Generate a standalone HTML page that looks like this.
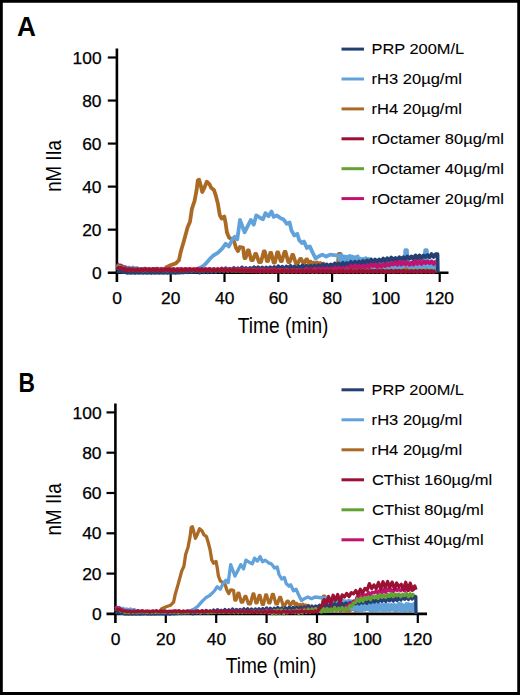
<!DOCTYPE html>
<html><head><meta charset="utf-8"><style>
html,body{margin:0;padding:0;background:#fff;width:520px;height:695px;overflow:hidden;}
svg{display:block;font-family:"Liberation Sans",sans-serif;}
</style></head><body>
<svg width="520" height="695" viewBox="0 0 520 695" font-family="Liberation Sans, sans-serif">
<rect x="0" y="0" width="520" height="695" fill="#fff"/>
<text x="17.11" y="36.30" font-size="27.54" font-weight="bold" fill="#000" textLength="18.93" lengthAdjust="spacingAndGlyphs">A</text>
<text x="18.40" y="391.50" font-size="26.96" font-weight="bold" fill="#000" textLength="16.46" lengthAdjust="spacingAndGlyphs">B</text>
<line x1="116.90" y1="48.50" x2="116.90" y2="282.00" stroke="#000" stroke-width="2.60"/>
<line x1="107.80" y1="272.70" x2="448.50" y2="272.70" stroke="#000" stroke-width="2.60"/>
<line x1="107.80" y1="229.66" x2="116.90" y2="229.66" stroke="#000" stroke-width="2.20"/>
<line x1="107.80" y1="186.62" x2="116.90" y2="186.62" stroke="#000" stroke-width="2.20"/>
<line x1="107.80" y1="143.58" x2="116.90" y2="143.58" stroke="#000" stroke-width="2.20"/>
<line x1="107.80" y1="100.54" x2="116.90" y2="100.54" stroke="#000" stroke-width="2.20"/>
<line x1="107.80" y1="57.50" x2="116.90" y2="57.50" stroke="#000" stroke-width="2.20"/>
<line x1="170.70" y1="272.70" x2="170.70" y2="282.00" stroke="#000" stroke-width="2.20"/>
<line x1="224.50" y1="272.70" x2="224.50" y2="282.00" stroke="#000" stroke-width="2.20"/>
<line x1="278.30" y1="272.70" x2="278.30" y2="282.00" stroke="#000" stroke-width="2.20"/>
<line x1="332.10" y1="272.70" x2="332.10" y2="282.00" stroke="#000" stroke-width="2.20"/>
<line x1="385.90" y1="272.70" x2="385.90" y2="282.00" stroke="#000" stroke-width="2.20"/>
<line x1="439.70" y1="272.70" x2="439.70" y2="282.00" stroke="#000" stroke-width="2.20"/>
<text x="91.95" y="279.10" font-size="16.57" font-weight="normal" fill="#000" textLength="9.68" lengthAdjust="spacingAndGlyphs" stroke="#000" stroke-width="0.25">0</text>
<text x="82.21" y="236.06" font-size="16.57" font-weight="normal" fill="#000" textLength="19.35" lengthAdjust="spacingAndGlyphs" stroke="#000" stroke-width="0.25">20</text>
<text x="82.21" y="193.02" font-size="16.57" font-weight="normal" fill="#000" textLength="19.35" lengthAdjust="spacingAndGlyphs" stroke="#000" stroke-width="0.25">40</text>
<text x="82.21" y="149.98" font-size="16.57" font-weight="normal" fill="#000" textLength="19.35" lengthAdjust="spacingAndGlyphs" stroke="#000" stroke-width="0.25">60</text>
<text x="82.21" y="106.94" font-size="16.57" font-weight="normal" fill="#000" textLength="19.35" lengthAdjust="spacingAndGlyphs" stroke="#000" stroke-width="0.25">80</text>
<text x="72.64" y="63.90" font-size="16.57" font-weight="normal" fill="#000" textLength="29.03" lengthAdjust="spacingAndGlyphs" stroke="#000" stroke-width="0.25">100</text>
<text x="112.23" y="304.20" font-size="16.57" font-weight="normal" fill="#000" textLength="9.68" lengthAdjust="spacingAndGlyphs" stroke="#000" stroke-width="0.25">0</text>
<text x="161.07" y="304.20" font-size="16.57" font-weight="normal" fill="#000" textLength="19.35" lengthAdjust="spacingAndGlyphs" stroke="#000" stroke-width="0.25">20</text>
<text x="215.13" y="304.20" font-size="16.57" font-weight="normal" fill="#000" textLength="19.35" lengthAdjust="spacingAndGlyphs" stroke="#000" stroke-width="0.25">40</text>
<text x="268.67" y="304.20" font-size="16.57" font-weight="normal" fill="#000" textLength="19.35" lengthAdjust="spacingAndGlyphs" stroke="#000" stroke-width="0.25">60</text>
<text x="322.56" y="304.20" font-size="16.57" font-weight="normal" fill="#000" textLength="19.35" lengthAdjust="spacingAndGlyphs" stroke="#000" stroke-width="0.25">80</text>
<text x="371.22" y="304.20" font-size="16.57" font-weight="normal" fill="#000" textLength="29.03" lengthAdjust="spacingAndGlyphs" stroke="#000" stroke-width="0.25">100</text>
<text x="425.02" y="304.20" font-size="16.57" font-weight="normal" fill="#000" textLength="29.03" lengthAdjust="spacingAndGlyphs" stroke="#000" stroke-width="0.25">120</text>
<line x1="115.40" y1="403.50" x2="115.40" y2="623.00" stroke="#000" stroke-width="2.60"/>
<line x1="106.50" y1="613.90" x2="427.00" y2="613.90" stroke="#000" stroke-width="2.60"/>
<line x1="106.50" y1="573.60" x2="115.40" y2="573.60" stroke="#000" stroke-width="2.20"/>
<line x1="106.50" y1="533.30" x2="115.40" y2="533.30" stroke="#000" stroke-width="2.20"/>
<line x1="106.50" y1="493.00" x2="115.40" y2="493.00" stroke="#000" stroke-width="2.20"/>
<line x1="106.50" y1="452.70" x2="115.40" y2="452.70" stroke="#000" stroke-width="2.20"/>
<line x1="106.50" y1="412.40" x2="115.40" y2="412.40" stroke="#000" stroke-width="2.20"/>
<line x1="165.80" y1="613.90" x2="165.80" y2="623.00" stroke="#000" stroke-width="2.20"/>
<line x1="216.20" y1="613.90" x2="216.20" y2="623.00" stroke="#000" stroke-width="2.20"/>
<line x1="266.60" y1="613.90" x2="266.60" y2="623.00" stroke="#000" stroke-width="2.20"/>
<line x1="317.00" y1="613.90" x2="317.00" y2="623.00" stroke="#000" stroke-width="2.20"/>
<line x1="367.40" y1="613.90" x2="367.40" y2="623.00" stroke="#000" stroke-width="2.20"/>
<line x1="417.80" y1="613.90" x2="417.80" y2="623.00" stroke="#000" stroke-width="2.20"/>
<text x="91.93" y="620.05" font-size="15.86" font-weight="normal" fill="#000" textLength="9.70" lengthAdjust="spacingAndGlyphs" stroke="#000" stroke-width="0.25">0</text>
<text x="82.16" y="579.75" font-size="15.86" font-weight="normal" fill="#000" textLength="19.40" lengthAdjust="spacingAndGlyphs" stroke="#000" stroke-width="0.25">20</text>
<text x="82.16" y="539.45" font-size="15.86" font-weight="normal" fill="#000" textLength="19.40" lengthAdjust="spacingAndGlyphs" stroke="#000" stroke-width="0.25">40</text>
<text x="82.16" y="499.15" font-size="15.86" font-weight="normal" fill="#000" textLength="19.40" lengthAdjust="spacingAndGlyphs" stroke="#000" stroke-width="0.25">60</text>
<text x="82.16" y="458.85" font-size="15.86" font-weight="normal" fill="#000" textLength="19.40" lengthAdjust="spacingAndGlyphs" stroke="#000" stroke-width="0.25">80</text>
<text x="72.57" y="418.55" font-size="15.86" font-weight="normal" fill="#000" textLength="29.10" lengthAdjust="spacingAndGlyphs" stroke="#000" stroke-width="0.25">100</text>
<text x="110.72" y="645.00" font-size="15.86" font-weight="normal" fill="#000" textLength="9.70" lengthAdjust="spacingAndGlyphs" stroke="#000" stroke-width="0.25">0</text>
<text x="156.14" y="645.00" font-size="15.86" font-weight="normal" fill="#000" textLength="19.40" lengthAdjust="spacingAndGlyphs" stroke="#000" stroke-width="0.25">20</text>
<text x="206.81" y="645.00" font-size="15.86" font-weight="normal" fill="#000" textLength="19.40" lengthAdjust="spacingAndGlyphs" stroke="#000" stroke-width="0.25">40</text>
<text x="256.94" y="645.00" font-size="15.86" font-weight="normal" fill="#000" textLength="19.40" lengthAdjust="spacingAndGlyphs" stroke="#000" stroke-width="0.25">60</text>
<text x="307.43" y="645.00" font-size="15.86" font-weight="normal" fill="#000" textLength="19.40" lengthAdjust="spacingAndGlyphs" stroke="#000" stroke-width="0.25">80</text>
<text x="352.69" y="645.00" font-size="15.86" font-weight="normal" fill="#000" textLength="29.10" lengthAdjust="spacingAndGlyphs" stroke="#000" stroke-width="0.25">100</text>
<text x="403.09" y="645.00" font-size="15.86" font-weight="normal" fill="#000" textLength="29.10" lengthAdjust="spacingAndGlyphs" stroke="#000" stroke-width="0.25">120</text>
<polyline points="116.9,267.4 118.9,268.9 120.9,268.4 123.0,270.2 125.0,269.8 127.0,271.2 129.0,270.4 131.0,271.5 133.0,270.6 135.1,271.5 137.1,270.5 139.1,271.6 141.1,270.6 143.1,271.4 145.1,270.4 147.2,271.4 149.2,270.6 151.2,271.6 153.2,270.5 155.2,271.3 157.2,270.5 159.3,271.5 161.3,270.6 163.3,271.5 166.3,267.3 171.1,265.0 175.8,263.4 179.0,260.2 180.6,252.3 183.8,241.2 187.7,227.0 190.0,221.8 191.9,208.9 194.5,201.1 196.5,190.7 197.8,180.4 199.1,179.7 200.4,184.2 202.3,192.0 204.2,188.1 206.8,181.7 209.4,184.2 211.4,188.1 214.0,190.1 215.9,195.9 217.9,203.7 219.8,215.3 221.7,218.6 224.3,216.6 225.6,223.1 226.9,232.2 228.9,237.4 231.5,239.3 234.0,241.2 236.0,247.7 237.9,251.0 240.0,247.0 243.0,247.5 244.4,258.0 245.6,258.0 247.8,250.5 248.8,250.5 251.2,260.0 252.8,260.0 255.2,254.0 256.2,254.0 259.0,262.0 261.0,262.0 263.8,251.5 264.8,251.5 266.9,261.0 268.1,261.0 270.2,253.0 271.2,253.0 273.6,262.5 274.9,262.5 277.2,252.5 278.2,252.5 280.6,261.0 281.9,261.0 284.4,252.0 285.6,252.0 288.2,262.0 289.8,262.0 292.2,255.0 293.2,255.0 295.9,263.5 297.6,263.5 300.2,259.0 301.2,259.0 303.2,263.0 304.2,263.0 306.2,259.5 307.2,259.5 309.2,264.0 310.2,264.0 310.6,261.6 312.2,264.6 313.8,262.6 315.4,265.4 317.0,262.4 318.6,265.5 320.3,263.1 321.9,267.5 323.5,263.6 325.1,268.7 326.7,265.5 328.3,267.6 329.9,264.9 331.6,267.9 333.2,266.2 334.8,267.9 336.4,264.9 337.7,267.0 338.7,253.8 340.6,253.8 341.5,267.0 342.9,264.8 344.5,268.7 346.1,266.5 347.7,268.6 349.3,266.1 350.9,267.7 352.5,265.8 354.2,268.4 355.8,265.8 357.4,269.8 359.0,265.6 360.6,268.6 362.2,265.2 363.8,270.0 365.5,266.1 367.1,269.9 368.7,267.2 370.3,268.1 371.9,266.9 373.5,270.0 375.1,265.7 376.8,269.5 378.4,266.6 380.0,268.9 381.6,265.2 383.2,268.0 384.8,267.0 386.4,267.9 388.1,266.2 389.7,269.7 391.3,266.0 392.9,268.7 394.5,266.1 396.1,268.2 397.7,265.1 399.3,268.6 401.0,266.7 402.6,268.5 404.2,265.4 405.8,268.5 407.4,265.2 409.0,268.6 410.6,266.3 412.3,268.0 413.9,265.2 415.5,269.6 417.1,266.2 418.7,268.1 420.3,266.1 421.9,268.7 423.6,265.3 425.2,270.0 426.8,265.6 428.4,268.5 430.0,267.2 431.6,269.9 433.2,265.1 434.9,268.2 436.5,266.1" fill="none" stroke="#ab6a24" stroke-width="3.80" stroke-linejoin="round"/>
<polyline points="116.9,265.0 118.9,266.3 120.9,265.8 123.0,267.0 125.0,266.9 127.0,268.0 129.0,267.5 131.0,268.3 133.0,267.4 135.1,268.4 137.1,268.0 139.1,269.5 141.1,269.4 143.1,270.7 145.1,270.2 147.2,271.1 149.2,270.3 151.2,271.0 153.2,270.3 155.2,271.0 157.2,270.2 159.3,270.9 161.3,270.1 163.3,270.8 165.3,270.3 167.3,271.1 169.4,270.1 171.4,270.8 173.4,270.0 175.4,271.1 177.4,270.2 179.4,270.9 181.5,270.2 183.5,270.9 185.5,270.1 187.5,270.9 189.5,270.1 191.5,270.8 193.6,270.2 193.0,270.3 198.0,268.8 202.0,266.8 205.0,264.5 209.4,259.4 213.3,255.5 217.8,252.9 222.4,248.4 225.6,243.8 228.9,246.4 232.1,240.0 234.7,236.7 237.3,239.3 240.0,220.0 244.6,232.3 247.7,226.2 250.8,220.0 253.8,224.6 256.2,215.4 260.0,217.7 263.1,219.2 265.4,213.1 268.5,216.2 271.5,211.5 273.8,216.9 276.9,215.4 279.0,217.0 281.0,218.5 283.0,219.0 284.8,221.0 286.7,223.8 289.6,222.5 291.5,230.6 294.4,235.4 297.3,233.8 299.2,240.2 302.1,243.1 304.0,241.6 306.9,247.9 309.8,246.4 312.7,252.7 315.6,258.5 318.5,256.5 322.3,254.6 326.2,256.5 330.0,254.6 338.8,255.7 340.2,263.0 341.5,255.1 342.9,263.7 344.2,256.4 345.6,262.6 346.9,256.7 348.2,262.9 349.6,255.8 350.9,262.9 352.3,256.5 353.6,263.4 355.0,257.2 356.3,264.1 357.7,256.3 359.0,264.8 360.3,258.6 361.7,264.7 363.0,258.9 364.4,266.6 365.7,258.1 367.1,267.1 368.4,258.8 369.8,267.6 371.1,259.1 372.4,268.0 373.8,261.6 375.1,268.8 376.5,261.8 377.8,269.2 379.2,261.9 380.5,268.6 381.9,262.3 383.2,268.6 384.6,262.5 385.9,268.0 387.2,261.5 388.6,269.4 389.9,261.2 391.3,269.2 392.6,262.1 394.0,269.3 395.3,262.9 396.7,269.2 398.0,262.3 399.4,268.2 400.7,262.8 402.0,268.9 403.4,262.7 404.5,265.9 405.3,250.1 406.9,250.1 407.7,265.9 408.8,263.0 410.1,268.9 411.5,262.8 412.8,268.5 414.1,262.9 415.5,268.7 416.8,263.2 418.2,269.3 419.5,261.5 420.9,268.8 422.2,261.9 423.6,269.9 424.4,265.9 425.2,250.1 426.8,250.1 427.6,265.9 428.9,269.7 430.3,262.2 431.6,268.5 433.0,262.6 434.3,269.8 435.7,261.7 437.0,269.7" fill="none" stroke="#62a2da" stroke-width="3.80" stroke-linejoin="round"/>
<polyline points="116.9,270.7 118.9,271.5 120.9,271.3 123.0,272.2 125.0,272.0 127.0,272.8 129.0,272.5 131.0,272.9 133.0,272.4 135.1,273.0 137.1,272.5 139.1,272.9 141.1,272.5 143.1,272.9 145.1,272.4 147.2,272.8 149.2,272.3 151.2,273.0 153.2,272.4 155.2,272.9 157.2,272.4 159.3,272.8 161.3,272.4 163.3,272.8 165.3,272.4 167.3,272.8 169.4,272.4 171.4,272.8 173.4,272.4 175.4,272.9 177.4,272.3 179.4,272.7 181.5,272.1 183.5,272.5 185.5,271.9 187.5,272.3 189.5,271.7 191.5,272.2 193.6,271.5 195.6,272.0 197.6,270.5 199.6,272.6 201.6,270.3 203.7,272.2 205.7,269.6 207.7,272.2 209.7,269.3 211.7,272.0 213.7,269.0 215.8,272.1 217.8,269.6 219.8,271.4 221.8,268.6 223.8,271.4 225.8,268.3 227.9,271.1 229.9,268.8 231.9,271.0 233.9,268.0 235.9,270.5 237.9,268.3 240.0,270.3 242.0,267.4 244.0,270.6 246.0,268.0 248.0,270.0 250.1,267.9 252.1,269.7 254.1,267.2 256.1,269.7 258.1,267.3 260.1,269.8 262.2,267.5 264.2,269.9 266.2,267.4 268.2,269.7 270.2,267.3 272.2,269.4 274.3,267.1 276.3,269.1 278.3,266.3 280.3,269.4 282.3,266.7 284.4,269.4 286.4,266.6 288.4,268.8 290.4,265.9 292.4,268.9 294.4,266.4 296.5,269.0 298.5,266.2 300.5,268.2 302.5,265.5 304.5,268.1 306.5,265.8 308.6,267.8 310.6,265.8 312.6,268.0 314.6,265.5 316.6,267.9 318.6,265.3 320.7,267.5 322.7,264.4 324.7,267.2 326.7,264.4 328.7,267.2 330.8,264.4 332.8,266.2 334.8,263.4 336.8,266.4 338.8,263.6 340.8,265.5 342.9,262.8 344.9,265.8 346.9,262.9 348.9,265.4 350.9,261.8 352.9,264.6 355.0,261.7 357.0,263.7 359.0,261.6 361.0,263.9 363.0,260.9 365.1,263.2 367.1,260.4 369.1,262.8 371.1,259.7 373.1,261.9 375.1,259.6 377.2,261.9 379.2,259.4 381.2,261.2 383.2,258.6 385.2,261.3 387.2,258.2 389.3,260.5 391.3,257.6 393.3,260.1 395.3,258.0 397.3,259.8 399.4,257.3 401.4,259.2 403.4,257.2 405.4,259.2 407.4,256.5 409.4,258.7 411.5,256.4 413.5,259.0 415.5,255.5 417.5,258.5 419.5,255.4 421.5,258.0 423.6,255.4 425.6,257.0 427.6,255.0 429.6,257.3 431.6,254.0 433.6,256.9 435.7,254.1 437.5,254.2 437.8,272.7" fill="none" stroke="#243f72" stroke-width="3.80" stroke-linejoin="round"/>
<polyline points="116.9,263.7 118.9,265.8 120.9,265.5 123.0,267.2 125.0,267.4 127.0,269.1 129.0,268.7 131.0,269.3 133.0,268.9 135.1,269.5 137.1,268.9 139.1,269.5 141.1,269.0 143.1,269.3 145.1,268.6 147.2,269.5 149.2,268.8 151.2,269.7 153.2,268.8 155.2,269.3 157.2,268.6 159.3,269.6 161.3,268.7 163.3,269.6 165.3,268.6 167.3,269.5 169.4,268.7 171.4,269.5 173.4,268.8 175.4,269.7 177.4,268.9 179.4,269.4 181.5,268.9 183.5,269.8 185.5,268.8 187.5,269.6 189.5,268.8 191.5,269.5 193.6,269.1 195.6,269.6 197.6,268.7 199.6,269.5 201.6,269.1 203.7,269.5 205.7,269.2 207.7,269.6 209.7,268.9 211.7,269.9 213.7,269.1 215.8,269.7 217.8,269.1 219.8,269.7 221.8,268.8 223.8,269.8 225.8,269.1 227.9,269.6 229.9,268.9 231.9,269.9 233.9,268.9 235.9,269.7 237.9,269.0 240.0,270.0 242.0,269.0 244.0,270.1 246.0,269.2 248.0,270.1 250.1,269.3 252.1,269.8 254.1,269.4 256.1,270.1 258.1,269.1 260.1,270.2 262.2,269.1 264.2,270.3 266.2,269.3 268.2,270.4 270.2,269.3 272.2,270.1 274.3,269.2 276.3,270.2 278.3,269.7 280.3,270.1 282.3,269.6 284.4,270.2 286.4,269.4 288.4,270.7 290.4,269.9 292.4,270.3 294.4,269.8 296.5,270.4 298.5,269.8 300.5,270.8 302.5,270.0 304.5,270.7 306.5,268.5 308.6,271.3 310.6,269.2 312.6,271.9 314.6,268.4 316.6,271.7 318.6,268.4 320.7,270.9 322.7,268.3 324.7,271.4 326.7,268.3 328.7,270.3 330.8,268.7 332.8,270.4 334.8,267.6 336.8,270.3 338.8,267.6 340.8,270.3 342.9,267.9 344.9,269.7 346.9,267.2 348.9,269.2 350.9,266.1 352.9,268.4 355.0,265.5 357.0,267.7 359.0,265.8 361.0,268.1 363.0,265.9 365.1,267.7 367.1,265.2 369.1,267.2 371.1,264.4 373.1,266.1 375.1,264.6 377.2,267.0 379.2,264.6 381.2,266.8 383.2,264.2 385.2,266.1 387.2,263.9 389.3,265.4 391.3,263.1 393.3,264.5 395.3,262.3 397.3,264.8 399.4,262.0 401.4,264.6 403.4,262.0 405.4,264.4 407.4,262.3 409.4,264.8 411.5,262.4 413.5,264.6 415.5,261.1 417.5,263.9 419.5,261.0 421.5,264.0 423.6,261.2 425.6,263.2 427.6,261.4 429.6,263.2 431.6,261.3 433.6,263.9 435.7,261.1" fill="none" stroke="#c0126f" stroke-width="3.80" stroke-linejoin="round"/>
<polyline points="116.9,265.0 118.9,266.8 120.9,266.9 123.0,268.7 125.0,268.5 127.0,270.0 129.0,269.4 131.0,270.4 133.0,269.3 135.1,270.3 137.1,269.3 139.1,270.4 141.1,269.4 143.1,270.6 145.1,269.4 147.2,270.6 149.2,269.4 151.2,270.3 153.2,269.4 155.2,270.5 157.2,269.6 159.3,270.4 161.3,269.4 163.3,270.5 165.3,269.4 167.3,270.6 169.4,269.4 171.4,270.5 173.4,269.5 175.4,270.5 177.4,269.6 179.4,270.7 181.5,269.6 183.5,270.6 185.5,269.4 187.5,270.6 189.5,269.7 191.5,270.6 193.6,269.5 195.6,270.4 197.6,269.7 199.6,270.6 201.6,269.7 203.7,270.7 205.7,269.6 207.7,270.6 209.7,269.6 211.7,270.6 213.7,269.5 215.8,270.5 217.8,269.7 219.8,270.6 221.8,269.7 223.8,270.6 225.8,269.7 227.9,270.7 229.9,269.7 231.9,270.8 233.9,270.0 235.9,271.1 237.9,270.0 240.0,271.0 242.0,270.1 244.0,271.3 246.0,270.1 248.0,271.2 250.1,270.3 252.1,271.2 254.1,270.3 256.1,271.3 258.1,270.5 260.1,271.5 262.2,270.7 264.2,271.6 266.2,270.8 268.2,271.5 270.2,270.7 272.2,271.8 274.3,270.7 276.3,271.6 278.3,270.6 280.3,271.5 282.3,270.7 284.4,271.8 286.4,270.5 288.4,271.6 290.4,270.6 292.4,271.6 294.4,270.7 296.5,271.7 298.5,270.5 300.5,271.7 302.5,270.7 304.5,271.7 306.5,270.6 308.6,271.6 310.6,270.6 312.6,271.7 314.6,270.6 316.6,271.8 318.6,270.8 320.7,271.6 322.7,270.6 324.7,271.6 326.7,270.7 328.7,271.7 330.8,270.6 332.8,271.5 334.8,270.8 336.8,271.7 338.8,270.7 340.8,271.5 342.9,270.7 344.9,271.5 346.9,270.5 348.9,271.5 350.9,270.7 352.9,271.4 355.0,270.6 357.0,271.5 359.0,270.6 361.0,271.6 363.0,270.4 365.1,271.7 367.1,270.7 369.1,271.5 371.1,270.5 373.1,271.4 375.1,270.7 377.2,271.5 379.2,270.6 381.2,271.6 383.2,270.5 385.2,271.5 387.2,270.6 389.3,271.4 391.3,270.6 393.3,271.4 395.3,270.5 397.3,271.4 399.4,270.4 401.4,271.6 403.4,270.7 405.4,271.5 407.4,270.5 409.4,271.3 411.5,270.5 413.5,271.3 415.5,270.4 417.5,271.3 419.5,270.5 421.5,271.6 423.6,270.4 425.6,271.4 427.6,270.5 429.6,271.4 431.6,270.6 433.6,271.6 435.7,270.4" fill="none" stroke="#63a133" stroke-width="3.80" stroke-linejoin="round"/>
<polyline points="116.9,266.9 118.9,268.4 120.9,267.7 123.0,269.3 125.0,268.8 127.0,270.4 129.0,269.2 131.0,270.5 133.0,269.4 135.1,270.4 137.1,269.6 139.1,270.5 141.1,269.4 143.1,270.4 145.1,269.3 147.2,270.4 149.2,269.5 151.2,270.4 153.2,269.2 155.2,270.6 157.2,269.3 159.3,270.6 161.3,269.6 163.3,270.5 165.3,269.4 167.3,270.4 169.4,269.3 171.4,270.5 173.4,269.6 175.4,270.7 177.4,269.6 179.4,270.8 181.5,269.5 183.5,270.6 185.5,269.5 187.5,270.6 189.5,269.6 191.5,270.4 193.6,269.4 195.6,270.5 197.6,269.4 199.6,270.5 201.6,269.3 203.7,270.8 205.7,269.4 207.7,270.7 209.7,269.5 211.7,270.7 213.7,269.7 215.8,270.7 217.8,269.4 219.8,270.6 221.8,269.4 223.8,270.8 225.8,269.6 227.9,270.7 229.9,269.7 231.9,270.8 233.9,269.6 235.9,270.9 237.9,270.1 240.0,270.9 242.0,269.9 244.0,271.4 246.0,270.1 248.0,271.3 250.1,270.2 252.1,271.5 254.1,270.4 256.1,271.6 258.1,270.4 260.1,271.7 262.2,270.7 264.2,271.6 266.2,270.7 268.2,271.9 270.2,270.7 272.2,271.8 274.3,270.7 276.3,271.6 278.3,270.8 280.3,271.9 282.3,270.5 284.4,271.7 286.4,270.6 288.4,271.9 290.4,270.5 292.4,272.0 294.4,270.7 296.5,272.0 298.5,270.5 300.5,271.8 302.5,270.5 304.5,271.8 306.5,270.7 308.6,271.7 310.6,270.5 312.6,271.7 314.6,270.9 316.6,271.9 318.6,270.6 320.7,271.8 322.7,270.6 324.7,271.7 326.7,270.8 328.7,271.8 330.8,270.7 332.8,271.7 334.8,270.9 336.8,271.8 338.8,270.6 340.8,272.0 342.9,270.6 344.9,271.9 346.9,270.8 348.9,272.0 350.9,270.7 352.9,272.0 355.0,270.9 357.0,271.8 359.0,270.6 361.0,272.0 363.0,270.6 365.1,271.9 367.1,270.8 369.1,271.9 371.1,270.6 373.1,271.8 375.1,270.8 377.2,271.8 379.2,270.7 381.2,271.7 383.2,270.7 385.2,272.1 387.2,271.0 389.3,271.9 391.3,270.7 393.3,272.1 395.3,270.8 397.3,271.8 399.4,270.8 401.4,272.1 403.4,270.6 405.4,271.8 407.4,271.0 409.4,271.8 411.5,271.0 413.5,271.9 415.5,271.0 417.5,272.1 419.5,270.8 421.5,271.8 423.6,270.8 425.6,271.9 427.6,270.8 429.6,271.9 431.6,271.0 433.6,271.9 435.7,270.9" fill="none" stroke="#9a1133" stroke-width="3.80" stroke-linejoin="round"/>
<polyline points="115.4,608.9 117.3,610.3 119.2,609.9 121.1,611.6 123.0,611.1 124.9,612.5 126.7,611.8 128.6,612.8 130.5,611.9 132.4,612.8 134.3,611.9 136.2,612.8 138.1,611.9 140.0,612.7 141.9,611.7 143.8,612.7 145.6,611.9 147.5,612.8 149.4,611.8 151.3,612.6 153.2,611.8 155.1,612.8 157.0,611.9 158.9,612.8 161.7,608.8 166.2,606.7 170.6,605.2 173.6,602.2 175.1,594.8 178.1,584.4 181.7,571.1 183.9,566.2 185.7,554.2 188.1,546.9 190.0,537.1 191.2,527.5 192.4,526.8 193.6,531.0 195.4,538.3 197.2,534.7 199.6,528.7 202.1,531.0 203.9,534.7 206.4,536.6 208.1,542.0 210.0,549.3 211.8,560.2 213.6,563.2 216.0,561.4 217.2,567.5 218.4,576.0 220.3,580.8 222.8,582.6 225.1,584.4 227.0,590.5 228.8,593.6 230.7,589.8 233.5,590.3 234.8,600.1 236.0,600.1 238.0,593.1 238.9,593.1 241.2,602.0 242.7,602.0 245.0,596.4 245.9,596.4 248.5,603.9 250.4,603.9 253.0,594.0 253.9,594.0 255.9,602.9 257.0,602.9 259.1,595.5 260.0,595.5 262.2,604.3 263.5,604.3 265.6,595.0 266.6,595.0 268.7,602.9 270.0,602.9 272.3,594.5 273.4,594.5 275.9,603.9 277.4,603.9 279.7,597.3 280.6,597.3 283.0,605.3 284.7,605.3 287.2,601.1 288.1,601.1 290.0,604.8 290.9,604.8 292.8,601.5 293.7,601.5 295.6,605.8 296.5,605.8 296.8,603.5 298.4,606.3 299.9,604.4 301.4,607.1 302.9,604.3 304.4,607.2 305.9,605.0 307.4,609.0 308.9,605.4 310.4,610.2 312.0,607.2 313.5,609.1 315.0,606.6 316.5,609.4 318.0,607.9 319.5,609.4 321.0,606.6 322.3,608.6 323.2,596.2 324.9,596.2 325.8,608.6 327.1,606.5 328.6,610.1 330.1,608.1 331.6,610.0 333.1,607.7 334.6,609.3 336.2,607.4 337.7,609.9 339.2,607.4 340.7,611.2 342.2,607.3 343.7,610.1 345.2,606.8 346.7,611.4 348.2,607.7 349.8,611.3 351.3,608.7 352.8,609.6 354.3,608.4 355.8,611.3 357.3,607.3 358.8,610.9 360.3,608.2 361.9,610.4 363.4,606.9 364.9,609.5 366.4,608.6 367.9,609.4 369.4,607.8 370.9,611.1 372.4,607.6 374.0,610.2 375.5,607.7 377.0,609.7 378.5,606.8 380.0,610.1 381.5,608.3 383.0,610.0 384.5,607.0 386.0,610.0 387.6,606.9 389.1,610.0 390.6,607.9 392.1,609.5 393.6,606.8 395.1,611.0 396.6,607.8 398.1,609.6 399.7,607.8 401.2,610.1 402.7,607.0 404.2,611.3 405.7,607.2 407.2,609.9 408.7,608.7 410.2,611.3 411.8,606.8 413.3,609.7 414.8,607.7" fill="none" stroke="#ab6a24" stroke-width="3.30" stroke-linejoin="round"/>
<polyline points="115.4,606.7 117.3,607.9 119.2,607.5 121.1,608.6 123.0,608.5 124.9,609.5 126.7,609.0 128.6,609.8 130.5,609.0 132.4,609.9 134.3,609.5 136.2,610.9 138.1,610.8 140.0,612.0 141.9,611.6 143.8,612.4 145.6,611.6 147.5,612.3 149.4,611.6 151.3,612.3 153.2,611.5 155.1,612.2 157.0,611.4 158.9,612.1 160.8,611.6 162.7,612.4 164.5,611.5 166.4,612.2 168.3,611.4 170.2,612.4 172.1,611.6 174.0,612.2 175.9,611.6 177.8,612.2 179.7,611.5 181.6,612.2 183.4,611.5 185.3,612.1 187.2,611.6 186.7,611.7 191.4,610.2 195.1,608.4 197.9,606.2 202.1,601.4 205.7,597.8 209.9,595.4 214.2,591.1 217.2,586.8 220.3,589.3 223.3,583.3 225.8,580.2 228.2,582.6 230.7,564.6 235.0,576.1 237.9,570.4 240.8,564.6 243.6,568.9 245.9,560.2 249.5,562.4 252.4,563.8 254.5,558.1 257.4,561.0 260.2,556.6 262.4,561.7 265.3,560.2 267.3,561.7 269.1,563.2 271.0,563.6 272.7,565.5 274.5,568.1 277.2,566.9 279.0,574.5 281.7,579.0 284.4,577.5 286.2,583.5 288.9,586.2 290.7,584.8 293.4,590.7 296.1,589.3 298.8,595.2 301.5,600.6 304.3,598.7 307.8,597.0 311.5,598.7 315.0,597.0 323.3,598.0 324.6,604.9 325.8,597.4 327.1,605.4 328.3,598.6 329.6,604.5 330.9,599.0 332.1,604.7 333.4,598.0 334.6,604.8 335.9,598.7 337.2,605.2 338.4,599.4 339.7,605.9 340.9,598.6 342.2,606.5 343.5,600.7 344.7,606.4 346.0,601.0 347.2,608.2 348.5,600.3 349.8,608.7 351.0,600.8 352.3,609.2 353.5,601.2 354.8,609.5 356.1,603.5 357.3,610.2 358.6,603.6 359.8,610.6 361.1,603.8 362.4,610.1 363.6,604.2 364.9,610.1 366.1,604.3 367.4,609.5 368.7,603.4 369.9,610.8 371.2,603.1 372.4,610.6 373.7,603.9 375.0,610.7 376.2,604.7 377.5,610.6 378.7,604.2 380.0,609.7 381.3,604.6 382.5,610.4 383.8,604.5 385.0,610.3 386.3,603.9 387.6,610.2 388.8,604.8 390.1,610.4 391.3,604.6 392.6,609.9 393.9,604.7 395.1,610.2 396.4,605.0 397.6,610.7 398.9,603.4 400.2,610.3 401.4,603.8 402.7,611.3 403.9,605.1 405.2,609.9 406.5,603.7 407.7,611.1 409.0,604.0 410.2,609.9 411.5,604.5 412.8,611.2 414.0,603.6 415.3,611.1" fill="none" stroke="#62a2da" stroke-width="3.30" stroke-linejoin="round"/>
<polyline points="115.4,612.1 117.3,612.8 119.2,612.6 121.1,613.4 123.0,613.3 124.9,614.0 126.7,613.7 128.6,614.1 130.5,613.6 132.4,614.1 134.3,613.7 136.2,614.1 138.1,613.7 140.0,614.1 141.9,613.6 143.8,614.0 145.6,613.5 147.5,614.1 149.4,613.6 151.3,614.1 153.2,613.7 155.1,614.0 157.0,613.6 158.9,614.0 160.8,613.6 162.7,614.0 164.5,613.7 166.4,614.0 168.3,613.6 170.2,614.1 172.1,613.5 174.0,613.9 175.9,613.3 177.8,613.7 179.7,613.2 181.6,613.5 183.4,612.9 185.3,613.4 187.2,612.8 189.1,613.2 191.0,611.8 192.9,613.8 194.8,611.6 196.7,613.4 198.6,611.0 200.4,613.5 202.3,610.7 204.2,613.2 206.1,610.4 208.0,613.4 209.9,611.0 211.8,612.6 213.7,610.0 215.6,612.6 217.5,609.7 219.4,612.4 221.2,610.3 223.1,612.3 225.0,609.5 226.9,611.8 228.8,609.8 230.7,611.7 232.6,609.0 234.5,611.9 236.4,609.5 238.2,611.4 240.1,609.4 242.0,611.1 243.9,608.7 245.8,611.1 247.7,608.8 249.6,611.2 251.5,609.0 253.4,611.3 255.3,608.9 257.1,611.1 259.0,608.8 260.9,610.8 262.8,608.6 264.7,610.6 266.6,607.9 268.5,610.9 270.4,608.3 272.3,610.8 274.2,608.2 276.1,610.2 277.9,607.5 279.8,610.3 281.7,608.0 283.6,610.4 285.5,607.8 287.4,609.7 289.3,607.2 291.2,609.6 293.1,607.4 295.0,609.3 296.8,607.5 298.7,609.5 300.6,607.2 302.5,609.4 304.4,607.0 306.3,609.1 308.2,606.1 310.1,608.8 312.0,606.1 313.9,608.7 315.7,606.1 317.6,607.8 319.5,605.2 321.4,608.0 323.3,605.4 325.2,607.2 327.1,604.7 329.0,607.5 330.9,604.7 332.8,607.0 334.6,603.7 336.5,606.3 338.4,603.6 340.3,605.4 342.2,603.5 344.1,605.7 346.0,602.9 347.9,605.0 349.8,602.4 351.6,604.7 353.5,601.7 355.4,603.8 357.3,601.6 359.2,603.8 361.1,601.4 363.0,603.1 364.9,600.7 366.8,603.3 368.7,600.3 370.6,602.5 372.4,599.7 374.3,602.1 376.2,600.1 378.1,601.8 380.0,599.4 381.9,601.3 383.8,599.4 385.7,601.3 387.6,598.7 389.5,600.8 391.3,598.6 393.2,601.1 395.1,597.8 397.0,600.6 398.9,597.7 400.8,600.1 402.7,597.7 404.6,599.2 406.5,597.4 408.4,599.5 410.2,596.4 412.1,599.1 414.0,596.5 415.8,596.6 416.0,613.9" fill="none" stroke="#243f72" stroke-width="3.30" stroke-linejoin="round"/>
<polyline points="115.4,606.3 117.3,608.3 119.2,608.0 121.1,609.9 123.0,609.9 124.9,612.1 126.7,610.9 128.6,611.9 130.5,611.1 132.4,612.2 134.3,611.2 136.2,612.4 138.1,611.2 140.0,612.1 141.9,610.9 143.8,612.2 145.6,611.3 147.5,612.0 149.4,611.2 151.3,611.8 153.2,611.1 155.1,612.3 157.0,611.2 158.9,612.3 160.8,610.9 162.7,612.1 164.5,611.0 166.4,611.9 168.3,611.4 170.2,612.4 172.1,611.3 174.0,611.9 175.9,610.9 177.8,612.3 179.7,611.4 181.6,612.0 183.4,611.3 185.3,611.9 187.2,611.4 189.1,612.1 191.0,611.2 192.9,612.0 194.8,611.3 196.7,611.8 198.6,611.4 200.4,612.3 202.3,610.9 204.2,612.1 206.1,611.3 208.0,611.8 209.9,611.3 211.8,611.9 213.7,611.4 215.6,611.9 217.5,611.3 219.4,611.9 221.2,611.0 223.1,612.0 225.0,611.1 226.9,611.9 228.8,611.0 230.7,612.2 232.6,611.2 234.5,611.8 236.4,611.1 238.2,611.9 240.1,610.9 242.0,611.8 243.9,610.8 245.8,611.7 247.7,611.0 249.6,612.0 251.5,611.2 253.4,612.3 255.3,610.9 257.1,611.8 259.0,611.0 260.9,612.1 262.8,611.3 264.7,611.7 266.6,610.1 268.5,613.1 270.4,610.4 272.3,612.6 274.2,610.3 276.1,612.3 277.9,609.7 279.8,613.4 281.7,610.3 283.6,611.9 285.5,610.4 287.4,613.2 289.3,610.6 291.2,612.1 293.1,610.7 295.0,612.9 296.8,609.8 298.7,612.0 300.6,609.6 302.5,612.5 304.4,608.8 306.3,612.5 308.2,609.5 310.1,612.2 312.0,608.5 313.9,612.1 315.7,608.6 317.6,611.5 319.5,608.8 321.4,611.7 323.3,608.4 325.2,611.3 327.1,608.8 329.0,610.1 330.9,608.5 332.8,610.5 334.6,607.7 336.5,609.6 338.4,608.0 340.3,610.4 342.2,607.8 344.1,610.0 346.0,606.3 347.9,608.6 349.8,603.3 351.6,604.9 353.5,601.1 355.4,601.6 357.3,596.7 359.2,599.1 361.1,594.9 363.0,596.6 364.9,594.9 366.8,595.2 368.7,592.5 370.6,595.2 372.4,592.2 374.3,592.9 376.2,591.0 378.1,593.5 380.0,589.9 381.9,593.1 383.8,589.1 385.7,592.5 387.6,588.9 389.5,590.8 391.3,589.8 393.2,591.7 395.1,588.3 397.0,590.6 398.9,589.1 400.8,590.7 402.7,588.8 404.6,590.9 406.5,588.6 408.4,590.4 410.2,589.2 412.1,590.5 414.0,589.1" fill="none" stroke="#c0126f" stroke-width="3.30" stroke-linejoin="round"/>
<polyline points="115.4,608.2 117.3,609.4 119.2,609.5 121.1,611.2 123.0,610.7 124.9,612.5 126.7,611.8 128.6,612.6 130.5,611.4 132.4,612.6 134.3,611.3 136.2,612.8 138.1,611.7 140.0,612.2 141.9,611.4 143.8,612.3 145.6,611.9 147.5,612.7 149.4,611.3 151.3,612.7 153.2,611.3 155.1,612.3 157.0,611.8 158.9,612.3 160.8,611.2 162.7,612.3 164.5,611.8 166.4,612.2 168.3,611.8 170.2,612.2 172.1,611.6 174.0,612.3 175.9,611.7 177.8,612.8 179.7,611.7 181.6,612.7 183.4,611.4 185.3,612.5 187.2,611.5 189.1,612.7 191.0,611.5 192.9,612.3 194.8,611.6 196.7,612.3 198.6,611.6 200.4,612.8 202.3,611.6 204.2,612.2 206.1,611.5 208.0,612.7 209.9,611.5 211.8,612.6 213.7,611.8 215.6,612.2 217.5,611.4 219.4,612.2 221.2,611.6 223.1,612.4 225.0,611.7 226.9,612.1 228.8,611.8 230.7,612.7 232.6,611.3 234.5,612.7 236.4,611.5 238.2,612.7 240.1,611.2 242.0,612.5 243.9,611.4 245.8,612.4 247.7,611.6 249.6,612.3 251.5,611.3 253.4,612.2 255.3,611.2 257.1,612.4 259.0,611.4 260.9,612.6 262.8,611.3 264.7,612.2 266.6,611.1 268.5,612.3 270.4,611.5 272.3,613.8 274.2,610.5 276.1,613.9 277.9,610.2 279.8,612.8 281.7,609.9 283.6,613.8 285.5,610.8 287.4,612.4 289.3,611.0 291.2,612.6 293.1,610.8 295.0,612.3 296.8,610.1 298.7,613.5 300.6,610.7 302.5,613.0 304.4,609.9 306.3,612.3 308.2,609.1 310.1,611.9 312.0,609.1 313.9,611.2 315.7,608.6 317.6,611.2 319.5,610.0 321.4,612.1 323.3,608.6 325.2,611.6 327.1,608.4 329.0,610.9 330.9,609.2 332.8,610.5 334.6,607.5 336.5,611.2 338.4,608.3 340.3,610.0 342.2,607.6 344.1,610.4 346.0,608.0 347.9,609.5 349.8,605.6 351.6,606.3 353.5,603.0 355.4,602.7 357.3,599.0 359.2,601.6 361.1,598.0 363.0,601.3 364.9,597.5 366.8,599.2 368.7,596.9 370.6,599.8 372.4,596.1 374.3,597.4 376.2,596.0 378.1,598.5 380.0,594.4 381.9,597.0 383.8,595.2 385.7,597.5 387.6,594.5 389.5,596.3 391.3,593.5 393.2,596.7 395.1,594.2 397.0,595.6 398.9,593.9 400.8,596.7 402.7,594.3 404.6,595.5 406.5,593.4 408.4,596.8 410.2,593.8 412.1,596.0 414.0,593.4" fill="none" stroke="#63a133" stroke-width="3.30" stroke-linejoin="round"/>
<polyline points="115.4,608.7 117.7,609.6 119.9,609.6 122.2,611.0 124.5,610.9 126.7,611.5 129.0,611.1 131.3,611.9 133.5,611.1 135.8,611.9 138.1,610.8 140.3,611.5 142.6,610.9 144.9,611.7 147.2,611.0 149.4,612.1 151.7,611.2 154.0,611.5 156.2,610.7 158.5,611.7 160.8,611.1 163.0,611.7 165.3,611.1 167.6,612.1 169.8,611.2 172.1,611.6 174.4,610.9 176.6,611.8 178.9,610.7 181.2,612.0 183.4,611.1 185.7,611.6 188.0,610.8 190.2,612.1 192.5,611.3 194.8,612.0 197.0,610.8 199.3,611.9 201.6,611.2 203.9,612.0 206.1,610.9 208.4,611.7 210.7,611.0 212.9,611.7 215.2,611.3 217.5,611.8 219.7,611.2 222.0,611.9 224.3,611.1 226.5,612.2 228.8,610.9 231.1,612.3 233.3,610.9 235.6,612.2 237.9,611.4 240.1,611.9 242.4,611.2 244.7,612.1 246.9,611.2 249.2,611.9 251.5,611.5 253.7,612.4 256.0,611.3 258.3,612.3 260.6,611.7 262.8,612.2 265.1,611.2 267.4,612.4 269.6,611.2 271.9,612.1 274.2,611.4 276.4,612.4 278.7,611.4 281.0,612.4 283.2,611.3 285.5,611.9 287.8,611.6 290.0,612.4 292.3,611.5 294.6,611.9 296.8,611.3 299.1,612.2 301.4,611.0 303.6,612.0 305.9,611.2 308.2,612.1 310.4,611.3 312.7,611.9 315.0,611.0 317.3,612.0 319.5,608.3 321.8,606.1 324.1,599.6 326.3,603.9 328.6,596.5 330.9,604.0 333.1,595.3 335.4,600.3 337.7,594.5 339.9,602.3 342.2,594.9 344.5,597.0 346.7,593.4 349.0,596.6 351.3,592.7 353.5,593.9 355.8,590.6 358.1,594.7 360.3,589.3 362.6,593.2 364.9,588.4 367.1,590.2 369.4,583.6 371.7,588.6 374.0,585.0 376.2,588.6 378.5,582.5 380.8,588.8 383.0,581.8 385.3,587.3 387.6,581.5 389.8,587.4 392.1,582.1 394.4,588.8 396.6,583.0 398.9,586.7 401.2,584.3 403.4,589.5 405.7,582.3 408.0,590.5 410.2,583.1 412.5,589.8 414.8,585.9 416.0,589.7" fill="none" stroke="#9a1133" stroke-width="3.30" stroke-linejoin="round"/>
<line x1="341.50" y1="49.10" x2="364.00" y2="49.10" stroke="#243f72" stroke-width="3.00"/>
<text x="371.49" y="54.40" font-size="15.36" font-weight="normal" fill="#000" textLength="92.62" lengthAdjust="spacingAndGlyphs" stroke="#000" stroke-width="0.10">PRP 200M/L</text>
<line x1="341.50" y1="79.00" x2="364.00" y2="79.00" stroke="#62a2da" stroke-width="3.00"/>
<text x="371.64" y="84.30" font-size="15.36" font-weight="normal" fill="#000" textLength="90.25" lengthAdjust="spacingAndGlyphs" stroke="#000" stroke-width="0.10">rH3 20µg/ml</text>
<line x1="341.50" y1="108.90" x2="364.00" y2="108.90" stroke="#ab6a24" stroke-width="3.00"/>
<text x="371.64" y="114.20" font-size="15.36" font-weight="normal" fill="#000" textLength="90.25" lengthAdjust="spacingAndGlyphs" stroke="#000" stroke-width="0.10">rH4 20µg/ml</text>
<line x1="341.50" y1="138.80" x2="364.00" y2="138.80" stroke="#9a1133" stroke-width="3.00"/>
<text x="371.65" y="144.10" font-size="15.36" font-weight="normal" fill="#000" textLength="132.18" lengthAdjust="spacingAndGlyphs" stroke="#000" stroke-width="0.10">rOctamer 80µg/ml</text>
<line x1="341.50" y1="168.70" x2="364.00" y2="168.70" stroke="#63a133" stroke-width="3.00"/>
<text x="371.65" y="174.00" font-size="15.36" font-weight="normal" fill="#000" textLength="132.18" lengthAdjust="spacingAndGlyphs" stroke="#000" stroke-width="0.10">rOctamer 40µg/ml</text>
<line x1="341.50" y1="198.60" x2="364.00" y2="198.60" stroke="#c0126f" stroke-width="3.00"/>
<text x="371.65" y="203.90" font-size="15.36" font-weight="normal" fill="#000" textLength="132.18" lengthAdjust="spacingAndGlyphs" stroke="#000" stroke-width="0.10">rOctamer 20µg/ml</text>
<line x1="341.50" y1="389.80" x2="364.00" y2="389.80" stroke="#243f72" stroke-width="3.00"/>
<text x="371.49" y="395.10" font-size="15.36" font-weight="normal" fill="#000" textLength="92.42" lengthAdjust="spacingAndGlyphs" stroke="#000" stroke-width="0.10">PRP 200M/L</text>
<line x1="341.50" y1="419.80" x2="364.00" y2="419.80" stroke="#62a2da" stroke-width="3.00"/>
<text x="371.64" y="425.10" font-size="15.36" font-weight="normal" fill="#000" textLength="90.46" lengthAdjust="spacingAndGlyphs" stroke="#000" stroke-width="0.10">rH3 20µg/ml</text>
<line x1="341.50" y1="449.80" x2="364.00" y2="449.80" stroke="#ab6a24" stroke-width="3.00"/>
<text x="371.64" y="455.10" font-size="15.36" font-weight="normal" fill="#000" textLength="90.46" lengthAdjust="spacingAndGlyphs" stroke="#000" stroke-width="0.10">rH4 20µg/ml</text>
<line x1="341.50" y1="479.80" x2="364.00" y2="479.80" stroke="#9a1133" stroke-width="3.00"/>
<text x="371.98" y="485.10" font-size="15.36" font-weight="normal" fill="#000" textLength="120.22" lengthAdjust="spacingAndGlyphs" stroke="#000" stroke-width="0.10">CThist 160µg/ml</text>
<line x1="341.50" y1="509.80" x2="364.00" y2="509.80" stroke="#63a133" stroke-width="3.00"/>
<text x="371.97" y="515.10" font-size="15.36" font-weight="normal" fill="#000" textLength="111.59" lengthAdjust="spacingAndGlyphs" stroke="#000" stroke-width="0.10">CThist 80µg/ml</text>
<line x1="341.50" y1="539.80" x2="364.00" y2="539.80" stroke="#c0126f" stroke-width="3.00"/>
<text x="371.97" y="545.10" font-size="15.36" font-weight="normal" fill="#000" textLength="111.59" lengthAdjust="spacingAndGlyphs" stroke="#000" stroke-width="0.10">CThist 40µg/ml</text>
<text x="237.82" y="332.70" font-size="22.32" font-weight="normal" fill="#000" textLength="90.63" lengthAdjust="spacingAndGlyphs">Time (min)</text>
<text x="225.72" y="673.00" font-size="21.74" font-weight="normal" fill="#000" textLength="90.63" lengthAdjust="spacingAndGlyphs">Time (min)</text>
<text transform="translate(60.90,191.70) rotate(-90)" x="0" y="0" font-size="22.17" textLength="51.57" lengthAdjust="spacingAndGlyphs">nM IIa</text>
<text transform="translate(60.80,535.41) rotate(-90)" x="0" y="0" font-size="21.74" textLength="52.19" lengthAdjust="spacingAndGlyphs">nM IIa</text>
<path d="M0 0H520V695H0Z M2.8 2.65V692H517.25V2.65Z" fill="#000" fill-rule="evenodd"/>
</svg>
</body></html>
